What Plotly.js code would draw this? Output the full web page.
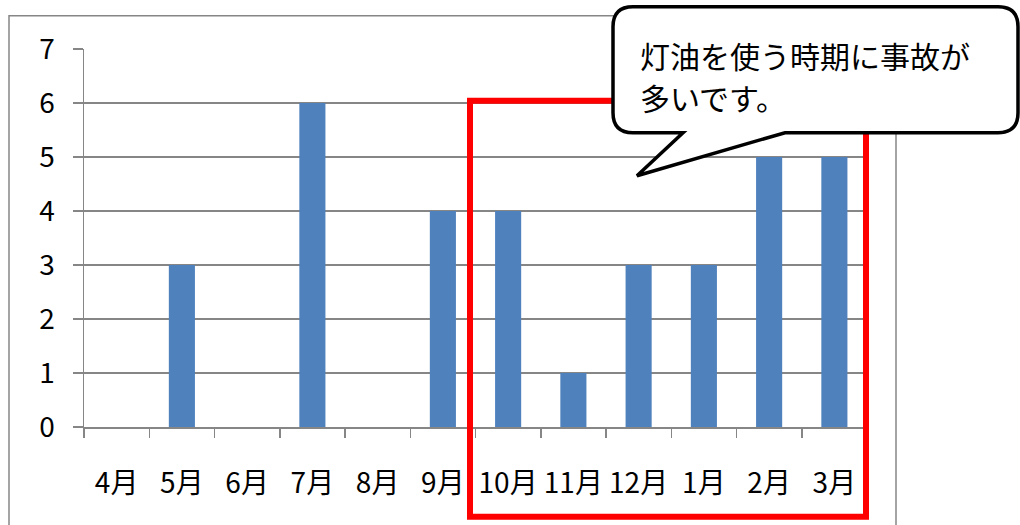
<!DOCTYPE html>
<html><head><meta charset="utf-8">
<script src="https://cdn.plot.ly/plotly-3.0.1.min.js"></script>
<style>html,body{margin:0;padding:0;background:#fff;}#chart{width:1020px;height:525px;}</style>
</head><body><div id="chart"></div>
<script>
const months = ["4月","5月","6月","7月","8月","9月","10月","11月","12月","1月","2月","3月"];
const counts = [0,3,0,6,0,4,4,1,3,3,5,5];
const yTicks = [0,1,2,3,4,5,6,7];
const calloutLines = ["灯油を使う時期に事故が","多いです。"];

const W=1020,H=525, L=84, R=867, T=49.3, B=427.3;
const pw=R-L, ph=B-T;
const px = X => (X-L)/pw;
const py = Y => 1-(Y-T)/ph;
const pt = (X,Y) => px(X).toFixed(5)+","+py(Y).toFixed(5);

const callout = "M"+pt(633,7)+" L"+pt(998,7)+" Q"+pt(1018,7)+" "+pt(1018,27)+
  " L"+pt(1018,113)+" Q"+pt(1018,133)+" "+pt(998,133)+
  " L"+pt(785,133)+" L"+pt(637,176)+" L"+pt(683,133)+
  " L"+pt(633,133)+" Q"+pt(613,133)+" "+pt(613,113)+
  " L"+pt(613,27)+" Q"+pt(613,7)+" "+pt(633,7)+" Z";

const font = "'Noto Sans CJK JP', 'Noto Sans', sans-serif";
const grey = "#868686";

const lineY = [55, 97];
const annotations = calloutLines.map((t,i)=>({
  xref:"paper",yref:"paper",x:px(638),y:py(lineY[i]),xanchor:"left",yanchor:"middle",
  align:"left",showarrow:false,text:t,font:{family:font,size:30,color:"#000"}
}));

Plotly.newPlot("chart",[{
  type:"bar", x:months, y:counts,
  marker:{color:"#4F81BD"}, hoverinfo:"skip"
}],{
  width:W,height:H,
  margin:{l:L,r:W-R,t:T,b:H-B,pad:0},
  paper_bgcolor:"#fff",plot_bgcolor:"#fff",
  bargap:0.6, showlegend:false,
  font:{family:font,size:28,color:"#000"},
  xaxis:{type:"category",showline:true,linecolor:grey,linewidth:1.5,
    ticks:"outside",tickson:"boundaries",ticklen:9,tickcolor:grey,tickwidth:1.5,
    showgrid:false,zeroline:false,ticklabelstandoff:31,tickangle:0,
    tickfont:{family:font,size:28,color:"#000"},fixedrange:true},
  yaxis:{range:[0,7],tickvals:yTicks,showline:true,linecolor:grey,linewidth:1.5,
    ticks:"outside",ticklen:10,tickcolor:grey,tickwidth:1.5,
    showgrid:true,gridcolor:grey,gridwidth:1.2,zeroline:false,ticklabelstandoff:12,
    tickfont:{family:font,size:28,color:"#000"},fixedrange:true},
  shapes:[
    {type:"rect",xref:"paper",yref:"paper",x0:px(9),x1:px(896),y0:py(16),y1:py(560),
      line:{color:grey,width:1.5},fillcolor:"rgba(0,0,0,0)",layer:"below"},
    {type:"rect",xref:"paper",yref:"paper",x0:px(470),x1:px(866),y0:py(101),y1:py(517),
      line:{color:"#FF0000",width:6},fillcolor:"rgba(0,0,0,0)"},
    {type:"path",xref:"paper",yref:"paper",path:callout,
      line:{color:"#000",width:3.5},fillcolor:"#fff"}
  ],
  annotations:annotations
},{displayModeBar:false,staticPlot:true});
</script></body></html>
